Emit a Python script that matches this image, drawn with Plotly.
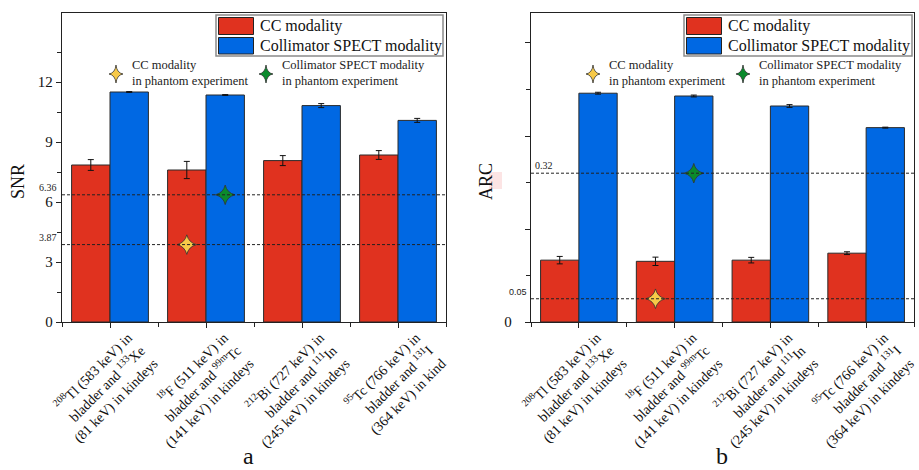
import plotly.graph_objects as go

# ---------------- data ----------------
categories = [
    "<sup>208</sup>Tl (583 keV) in<br>bladder and <sup>133</sup>Xe<br>(81 keV) in kindeys",
    "<sup>18</sup>F (511 keV) in<br>bladder and <sup>99m</sup>Tc<br>(141 keV) in kindeys",
    "<sup>212</sup>Bi (727 keV) in<br>bladder and <sup>111</sup>In<br>(245 keV) in kindeys",
    "<sup>95</sup>Tc (766 keV) in<br>bladder and <sup>131</sup>I<br>(364 keV) in kindeys",
]
categories_a = categories[:3] + [
    "<sup>95</sup>Tc (766 keV) in<br>bladder and <sup>131</sup>I<br>(364 keV) in kind"
]
cat_pos = [0, 1, 2, 3]

snr_cc = [7.85, 7.60, 8.07, 8.35]
snr_cc_err = [0.27, 0.43, 0.25, 0.22]
snr_spect = [11.50, 11.35, 10.82, 10.08]
snr_spect_err = [0.02, 0.02, 0.10, 0.10]

arc_cc = [0.133, 0.1305, 0.133, 0.148]
arc_cc_err = [0.008, 0.009, 0.006, 0.003]
arc_spect = [0.492, 0.486, 0.4645, 0.418]
arc_spect_err = [0.002, 0.002, 0.003, 0.001]

phantom_cat = 1
snr_phantom_cc = 3.87
snr_phantom_spect = 6.36
arc_phantom_cc = 0.05
arc_phantom_spect = 0.32

snr_ticks = [0, 3, 6, 9, 12]
snr_minor = [1.5, 4.5, 7.5, 10.5, 13.5]
arc_ticks = [0, 0.2, 0.4, 0.6]
arc_ticktext = ["0", "", "", ""]
arc_minor = [0.1, 0.3, 0.5]

# ---------------- style ----------------
RED = "#E0321F"
BLUE = "#0068E3"
YELLOW = "#F7C948"
GREEN = "#0B8A2C"
SERIF = "Liberation Serif, Times New Roman, serif"
W, H = 919, 470
BARW = 0.4


def px(x):
    return x / W


def py(y):
    return 1 - y / H


def star_path(cx, cy, rx, ry, k=0.12):
    top = (cx, cy - ry)
    right = (cx + rx, cy)
    bottom = (cx, cy + ry)
    left = (cx - rx, cy)
    c1 = (cx + k * rx, cy - k * ry)
    c2 = (cx + k * rx, cy + k * ry)
    c3 = (cx - k * rx, cy + k * ry)
    c4 = (cx - k * rx, cy - k * ry)

    def f(p):
        return f"{px(p[0]):.5f},{py(p[1]):.5f}"

    return (f"M {f(top)} Q {f(c1)} {f(right)} Q {f(c2)} {f(bottom)} "
            f"Q {f(c3)} {f(left)} Q {f(c4)} {f(top)} Z")


fig = go.Figure()

for cc, cce, sp, spe, xa, ya in [
    (snr_cc, snr_cc_err, snr_spect, snr_spect_err, "x", "y"),
    (arc_cc, arc_cc_err, arc_spect, arc_spect_err, "x2", "y2"),
]:
    fig.add_trace(go.Bar(
        x=cat_pos, y=cc, xaxis=xa, yaxis=ya, name="CC modality",
        marker=dict(color=RED, line=dict(color="#2a2a2a", width=1)),
        error_y=dict(type="data", array=cce, color="#111", thickness=1, width=3),
        showlegend=False,
    ))
    fig.add_trace(go.Bar(
        x=cat_pos, y=sp, xaxis=xa, yaxis=ya, name="Collimator SPECT modality",
        marker=dict(color=BLUE, line=dict(color="#2a2a2a", width=1)),
        error_y=dict(type="data", array=spe, color="#111", thickness=1, width=3),
        showlegend=False,
    ))

# phantom experiment stars
for ycc, ysp, xa, ya in [
    (snr_phantom_cc, snr_phantom_spect, "x", "y"),
    (arc_phantom_cc, arc_phantom_spect, "x2", "y2"),
]:
    fig.add_trace(go.Scatter(
        x=[cat_pos[phantom_cat] - BARW / 2], y=[ycc], xaxis=xa, yaxis=ya, mode="markers",
        marker=dict(symbol="star-diamond", size=14, color=YELLOW, line=dict(color="#333", width=0.8)),
        showlegend=False, cliponaxis=False,
    ))
    fig.add_trace(go.Scatter(
        x=[cat_pos[phantom_cat] + BARW / 2], y=[ysp], xaxis=xa, yaxis=ya, mode="markers",
        marker=dict(symbol="star-diamond", size=14, color=GREEN, line=dict(color="#333", width=0.8)),
        showlegend=False, cliponaxis=False,
    ))

axis_common = dict(
    showline=True, linecolor="#222", linewidth=1.3, mirror=True,
    ticks="outside", ticklen=5, tickcolor="#222", tickwidth=1,
    showgrid=False, zeroline=False, automargin=False,
    tickfont=dict(family=SERIF, size=15, color="#111"),
)
ydom = [py(322), py(13)]
xlab_font = dict(family=SERIF, size=14, color="#111")
xminor = dict(tickvals=[-0.5, 0.5, 1.5, 2.5, 3.5], ticks="outside", ticklen=4, tickcolor="#222")

fig.update_layout(
    width=W, height=H,
    margin=dict(l=0, r=0, t=0, b=0, autoexpand=False),
    paper_bgcolor="white", plot_bgcolor="white",
    barmode="group", bargap=0.2, bargroupgap=0,
    showlegend=False,
    xaxis=dict(axis_common, domain=[px(62), px(446)], anchor="y", range=[-0.5, 3.5],
               tickvals=cat_pos, ticktext=categories_a, tickangle=-45,
               ticklabelshift=18, ticklabelstandoff=-4,
               minor=xminor, tickfont=xlab_font),
    yaxis=dict(axis_common, domain=ydom, anchor="x", range=[0, 15.45],
               tickvals=snr_ticks,
               minor=dict(tickvals=snr_minor, ticks="outside", ticklen=4, tickcolor="#222")),
    xaxis2=dict(axis_common, domain=[px(531), px(914)], anchor="y2", range=[-0.5, 3.5],
                tickvals=cat_pos, ticktext=categories, tickangle=-45,
                ticklabelshift=18, ticklabelstandoff=-4,
                minor=xminor, tickfont=xlab_font),
    yaxis2=dict(axis_common, domain=ydom, anchor="x2", range=[0, 0.6645],
                tickvals=arc_ticks, ticktext=arc_ticktext, ticklabelstandoff=10,
                minor=dict(tickvals=arc_minor, ticks="outside", ticklen=4, tickcolor="#222")),
)

shapes = []
annotations = []

# dashed reference lines at phantom values
for val, xr, yr in [
    (snr_phantom_cc, "x domain", "y"), (snr_phantom_spect, "x domain", "y"),
    (arc_phantom_cc, "x2 domain", "y2"), (arc_phantom_spect, "x2 domain", "y2"),
]:
    shapes.append(dict(type="line", xref=xr, yref=yr, x0=0, x1=1, y0=val, y1=val,
                       line=dict(color="#222", width=1, dash="3px,2px"), layer="above"))

# value labels for dashed lines
annotations += [
    dict(x=px(59), y=snr_phantom_spect, xref="paper", yref="y", text=f"{snr_phantom_spect:.2f}",
         xanchor="right", yanchor="bottom", showarrow=False, font=dict(family=SERIF, size=10, color="#222")),
    dict(x=px(59), y=snr_phantom_cc, xref="paper", yref="y", text=f"{snr_phantom_cc:.2f}",
         xanchor="right", yanchor="bottom", showarrow=False, font=dict(family=SERIF, size=10, color="#222")),
    dict(x=px(533), y=arc_phantom_spect, xref="paper", yref="y2", text=f"{arc_phantom_spect:.2f}",
         xanchor="left", yanchor="bottom", showarrow=False, font=dict(family=SERIF, size=10, color="#222")),
    dict(x=px(529), y=arc_phantom_cc, xref="paper", yref="y2", text=f"{arc_phantom_cc:.2f}",
         xanchor="right", yanchor="bottom", showarrow=False, font=dict(family="Liberation Sans, Arial", size=9, color="#222")),
]

# bar legends (boxes)
for x0, x1 in [(216, 443), (684, 912)]:
    shapes.append(dict(type="rect", xref="paper", yref="paper", x0=px(x0), x1=px(x1), y0=py(56), y1=py(15),
                       line=dict(color="#8a8a8a", width=1.5), fillcolor="white"))
    sw0 = x0 + 2.5
    shapes.append(dict(type="rect", xref="paper", yref="paper", x0=px(sw0), x1=px(sw0 + 35), y0=py(34.5), y1=py(17.5),
                       line=dict(color="#222", width=1), fillcolor=RED))
    shapes.append(dict(type="rect", xref="paper", yref="paper", x0=px(sw0), x1=px(sw0 + 35), y0=py(54), y1=py(37.5),
                       line=dict(color="#222", width=1), fillcolor=BLUE))
    annotations.append(dict(x=px(sw0 + 39), y=py(26), xref="paper", yref="paper", text="CC modality",
                            xanchor="left", yanchor="middle", showarrow=False,
                            font=dict(family=SERIF, size=16, color="#111")))
    annotations.append(dict(x=px(sw0 + 39), y=py(45.5), xref="paper", yref="paper", text="Collimator SPECT modality",
                            xanchor="left", yanchor="middle", showarrow=False,
                            font=dict(family=SERIF, size=16, color="#111")))

# star legend entries
star_entries = [(116, 131, "CC modality", YELLOW), (266, 281, "Collimator SPECT modality", GREEN),
                (593, 608, "CC modality", YELLOW), (743, 758, "Collimator SPECT modality", GREEN)]
for sx, tx, t, col in star_entries:
    shapes.append(dict(type="path", xref="paper", yref="paper", path=star_path(sx, 74, 7, 9),
                       fillcolor=col, line=dict(color="#333", width=0.8)))
    annotations.append(dict(x=px(tx), y=py(73), xref="paper", yref="paper",
                            text=t + "<br>in phantom experiment", align="left",
                            xanchor="left", yanchor="middle", showarrow=False, borderpad=0,
                            font=dict(family=SERIF, size=12.5, color="#222")))

# axis titles
annotations.append(dict(x=px(18), y=py(182), xref="paper", yref="paper", text="SNR", textangle=-90,
                        xanchor="center", yanchor="middle",
                        showarrow=False, font=dict(family=SERIF, size=18, color="#111")))
annotations.append(dict(x=px(486), y=py(182), xref="paper", yref="paper", text="ARC", textangle=-90,
                        xanchor="center", yanchor="middle",
                        showarrow=False, font=dict(family=SERIF, size=18, color="#111")))
# faint pink mark next to ARC
shapes.append(dict(type="rect", xref="paper", yref="paper", x0=px(489), x1=px(502), y0=py(189), y1=py(172),
                   line=dict(width=0), fillcolor="rgba(250,210,210,0.6)", layer="below"))

# panel letters
annotations.append(dict(x=px(248), y=0, xref="paper", yref="paper", text="a",
                        xanchor="center", yanchor="bottom", borderpad=0,
                        showarrow=False, font=dict(family=SERIF, size=24, color="#111")))
annotations.append(dict(x=px(722), y=0, xref="paper", yref="paper", text="b",
                        xanchor="center", yanchor="bottom", borderpad=0,
                        showarrow=False, font=dict(family=SERIF, size=24, color="#111")))

fig.update_layout(shapes=shapes, annotations=annotations)

fig.write_html("out.html", config={"displayModeBar": False},
               post_script="document.body.style.margin='0px';document.body.style.overflow='hidden';")
